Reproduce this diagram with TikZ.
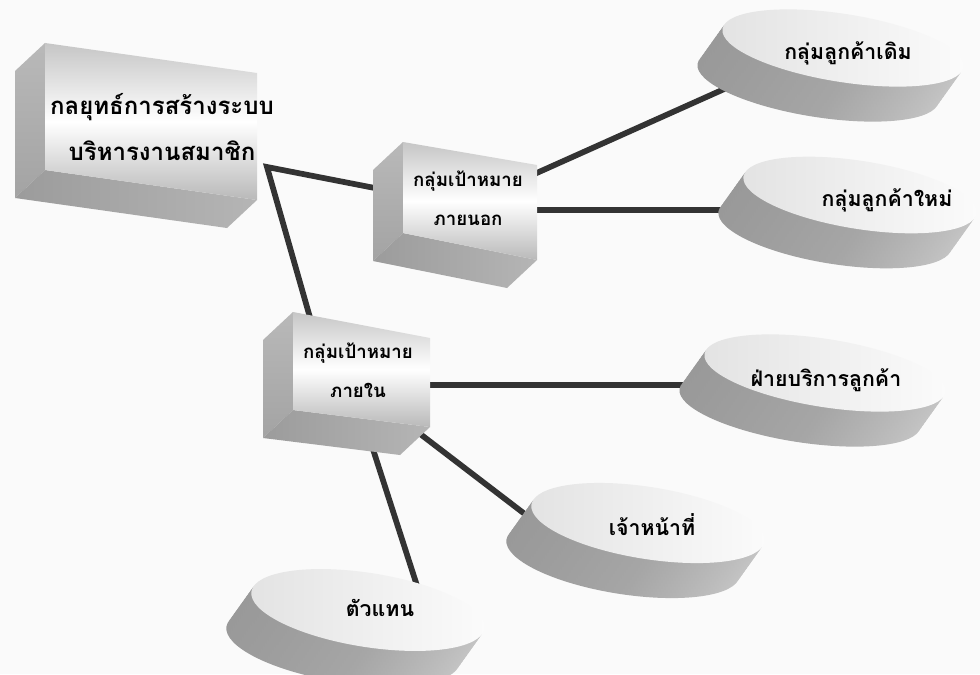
\documentclass[tikz,border=0pt]{standalone}
\usepackage{fontspec}
\newfontfamily\thaifont[Script=Thai]{Loma}
\tikzset{
  link/.style={line width=4.3pt, draw=black!80, line join=miter},
  frontface/.style={top color=gray!45, bottom color=gray!55, middle color=white},
  sideface/.style={top color=gray!55, bottom color=gray!72},
  baseface/.style={left color=gray!78, right color=gray!58},
  diskside/.style={left color=gray!80, right color=gray!45, middle color=gray!70},
  disktop/.style={left color=gray!22, right color=white!97!gray},
  mainlabel/.style={font=\thaifont\bfseries\fontsize{18}{35}\selectfont, align=center},
  boxlabel/.style={font=\thaifont\bfseries\fontsize{14}{29}\selectfont, align=center},
  disklabel/.style={font=\thaifont\bfseries\fontsize{16}{20}\selectfont}
}
\begin{document}
\begin{tikzpicture}[x=0.75pt, y=-0.75pt]
        \fill[gray!4] (0,0) rectangle (980,674);
        \useasboundingbox (0,0) rectangle (980,674);
        % connector ends
        \coordinate (mainport) at (267,167);
        \coordinate (outerW) at (385,190);
        \coordinate (innerN) at (315,335);
        \coordinate (outerE1) at (530,176);
        \coordinate (oldW) at (760,73);
        \coordinate (outerE2) at (530,210);
        \coordinate (newW) at (740,210);
        \coordinate (innerE) at (420,385);
        \coordinate (serviceW) at (700,385);
        \coordinate (innerSE) at (415,430);
        \coordinate (staffW) at (530,518);
        \coordinate (innerS) at (370,440);
        \coordinate (agentN) at (420,595);
        \draw[link] (outerW) -- (mainport) -- (innerN);
        \draw[link] (outerE1) -- (oldW);
        \draw[link] (outerE2) -- (newW);
        \draw[link] (innerE) -- (serviceW);
        \draw[link] (innerSE) -- (staffW);
        \draw[link] (innerS) -- (agentN);
        % boxes
        \foreach \xa/\ya/\xb/\yb/\ha/\hb in {45/43/257/73/127/127, 403/142/537/165/91/95, 293/312/430/338/98/89} {
                \shade[sideface] (\xa,\ya) -- (\xa-30,\ya+28) -- (\xa-30,\ya+\ha+28) -- (\xa,\ya+\ha) -- cycle;
                \shade[baseface] (\xa,\ya+\ha) -- (\xb,\yb+\hb) -- (\xb-30,\yb+\hb+28) -- (\xa-30,\ya+\ha+28) -- cycle;
                \shade[frontface] (\xa,\ya) -- (\xb,\yb) -- (\xb,\yb+\hb) -- (\xa,\ya+\ha) -- cycle;
            }
        % disks
        \foreach \cx/\cy/\rx/\ry in {843/48/122/34, 860/195/118/34, 825/373/122/34, 648/523/118/36, 368/610/118/37} {
                \foreach \k in {12,...,1} {
                        \shade[diskside, shift={(\cx-25*\k/12,\cy+35*\k/12)}, rotate=-9] (0,0) ellipse [x radius=\rx, y radius=\ry];
                    }
                \shade[disktop, shift={(\cx,\cy)}, rotate=-9] (0,0) ellipse [x radius=\rx, y radius=\ry];
            }
        \node[mainlabel] (main) at (162,127) {กลยุทธ์การสร้างระบบ\\บริหารงานสมาชิก};
        \node[boxlabel] (outer) at (468,198) {กลุ่มเป้าหมาย\\ภายนอก};
        \node[boxlabel] (inner) at (358,370) {กลุ่มเป้าหมาย\\ภายใน};
        \node[disklabel] (old) at (848,53) {กลุ่มลูกค้าเดิม};
        \node[disklabel] (new) at (887,200) {กลุ่มลูกค้าใหม่};
        \node[disklabel] (service) at (826,380) {ฝ่ายบริการลูกค้า};
        \node[disklabel] (staff) at (652,525) {เจ้าหน้าที่};
        \node[disklabel] (agent) at (380,608) {ตัวแทน};
    \end{tikzpicture}
\end{document}
